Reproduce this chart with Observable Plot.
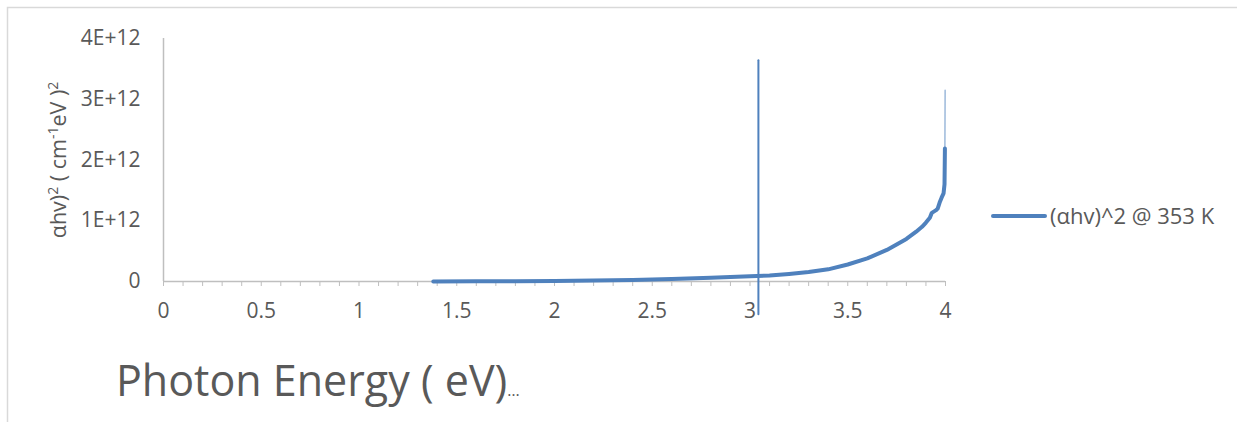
<!DOCTYPE html>
<html>
<head>
<meta charset="utf-8">
<script src="https://cdn.jsdelivr.net/npm/d3@7"></script>
<script src="https://cdn.jsdelivr.net/npm/@observablehq/plot@0.6"></script>
<style>
  html, body { margin: 0; padding: 0; background: #fff; overflow: hidden; }
  svg { display: block; }
</style>
</head>
<body>
<div id="chart"></div>
<script>
// Photon energy (eV)
const energy = [1.38, 1.6, 1.8, 2.0, 2.2, 2.4, 2.6, 2.8, 3.0, 3.1, 3.2, 3.3, 3.4, 3.5, 3.6, 3.7, 3.75, 3.8, 3.85, 3.88, 3.9, 3.92, 3.93, 3.95, 3.96, 3.97, 3.98, 3.99, 3.995, 3.997];
// (αhv)^2 in units of 1E+12
const alphaHv2 = [0, 0.003, 0.006, 0.01, 0.016, 0.025, 0.04, 0.06, 0.085, 0.1, 0.125, 0.155, 0.2, 0.28, 0.38, 0.52, 0.61, 0.7, 0.82, 0.9, 0.97, 1.05, 1.13, 1.17, 1.2, 1.3, 1.38, 1.45, 1.6, 2.19];
// thin spike at the high-energy end
const tailEnergy = [3.997, 3.998];
const tailAlphaHv2 = [2.19, 3.15];
// vertical marker line
const markerEnergy = [3.043, 3.043];
const markerValue = [-0.54, 3.64];

const xTicks = [0, 0.5, 1, 1.5, 2, 2.5, 3, 3.5, 4];
const xTickLabels = ["0", "0.5", "1", "1.5", "2", "2.5", "3", "3.5", "4"];
const yTicks = [0, 1, 2, 3, 4];
const yTickLabels = ["0", "1E+12", "2E+12", "3E+12", "4E+12"];
const minorTicks = d3.range(0, 41).map(i => i / 10);

const seriesName = "(αhv)^2 @ 353 K";
const xTitle = "Photon Energy ( eV)";

const main = energy.map((x, i) => ({x, y: alphaHv2[i] * 1e12}));
const tail = tailEnergy.map((x, i) => ({x, y: tailAlphaHv2[i] * 1e12}));
const marker = markerEnergy.map((x, i) => ({x, y: markerValue[i] * 1e12}));

const blue = "#4f81bd";
const grey = "#bfbfbf";
const txt = "#595959";
const font = "'Open Sans', sans-serif";

const plot = Plot.plot({
  width: 1237,
  height: 422,
  marginLeft: 163,
  marginRight: 292,
  marginTop: 38,
  marginBottom: 141,
  style: {fontFamily: font, background: "transparent", overflow: "visible"},
  x: {domain: [0, 4]},
  y: {domain: [0, 4e12]},
  marks: [
    Plot.axisX({ticks: minorTicks, tickSize: 5, tickFormat: () => "", stroke: grey, strokeOpacity: 1, label: null}),
    Plot.axisX({ticks: xTicks, tickSize: 0, tickPadding: 22, tickFormat: (d) => xTickLabels[xTicks.indexOf(d)], fontSize: 21, fill: txt, label: null}),
    Plot.axisY({ticks: yTicks.map(v => v * 1e12), tickSize: 0, tickPadding: 23, tickFormat: (d) => yTickLabels[yTicks.indexOf(d / 1e12)], fontSize: 21, fill: txt, label: null}),
    Plot.ruleY([0], {stroke: grey, strokeWidth: 1.5}),
    Plot.ruleX([0], {stroke: grey, strokeWidth: 1.5}),
    Plot.line(marker, {x: "x", y: "y", stroke: blue, strokeWidth: 2}),
    Plot.line(tail, {x: "x", y: "y", stroke: blue, strokeWidth: 1.2, strokeOpacity: 0.7}),
    Plot.line(main, {x: "x", y: "y", stroke: blue, strokeWidth: 4, strokeLinejoin: "round"})
  ]
});

document.getElementById("chart").appendChild(plot);

const svg = d3.select(plot);
// chart border
svg.insert("rect", ":first-child")
  .attr("x", 7.5).attr("y", 7.5).attr("width", 1240).attr("height", 440)
  .attr("fill", "none").attr("stroke", "#d9d9d9").attr("stroke-width", 1.5);

// y-axis title
const yt = svg.append("text")
  .attr("transform", "translate(66,160) rotate(-90)")
  .attr("text-anchor", "middle")
  .attr("fill", txt).attr("font-family", font).attr("font-size", 21.5);
yt.append("tspan").text("αhv)");
yt.append("tspan").attr("dy", -8).attr("font-size", 14).text("2");
yt.append("tspan").attr("dy", 8).text(" ( cm");
yt.append("tspan").attr("dy", -8).attr("font-size", 14).text("-1");
yt.append("tspan").attr("dy", 8).text("eV )");
yt.append("tspan").attr("dy", -8).attr("font-size", 14).text("2");

// x-axis title
const xt = svg.append("text")
  .attr("x", 116).attr("y", 396)
  .attr("text-anchor", "start")
  .attr("fill", txt).attr("font-family", font).attr("font-size", 43);
xt.append("tspan").text(xTitle);
xt.append("tspan").attr("font-size", 16).text("…");

// legend
svg.append("line")
  .attr("x1", 993).attr("x2", 1045).attr("y1", 216).attr("y2", 216)
  .attr("stroke", blue).attr("stroke-width", 4).attr("stroke-linecap", "round");
svg.append("text")
  .attr("x", 1050).attr("y", 224)
  .attr("text-anchor", "start")
  .attr("fill", txt).attr("font-family", font).attr("font-size", 22)
  .text(seriesName);
</script>
</body>
</html>
